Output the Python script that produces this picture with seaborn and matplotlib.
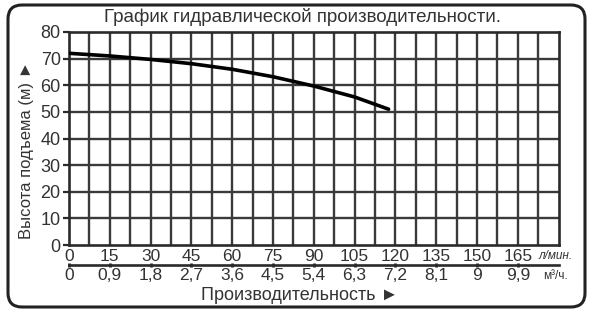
import matplotlib
matplotlib.use("Agg")
import matplotlib.pyplot as plt
import seaborn as sns
import pandas as pd
from matplotlib.patches import FancyBboxPatch
from matplotlib.transforms import IdentityTransform

# ---- data ----
flow_lpm = [0, 15, 30, 45, 60, 75, 90, 105, 117.5]
head_m = [72, 71, 69.7, 68.1, 66, 63.2, 59.7, 55.6, 51]

x_ticks = [0, 15, 30, 45, 60, 75, 90, 105, 120, 135, 150, 165]
x_labels_lpm = ["0", "15", "30", "45", "60", "75", "90", "105", "120", "135", "150", "165"]
x_labels_m3h = ["0", "0,9", "1,8", "2,7", "3,6", "4,5", "5,4", "6,3", "7,2", "8,1", "9", "9,9"]
y_ticks = [0, 10, 20, 30, 40, 50, 60, 70, 80]

title = "График гидравлической производительности."
ylabel = "Высота подъема (м) ►"
xlabel = "Производительность ►"
unit_lpm = "л/мин."
unit_m3h = "м³/ч."

sns.set_style("white")
plt.rcParams["font.family"] = ["Liberation Sans", "DejaVu Sans"]
TXT = "#333333"

W, H = 594, 318
fig = plt.figure(figsize=(W / 100, H / 100), dpi=100)
fig.patch.set_facecolor("white")

def fx(px):
    return px / W

def fy(py):
    return 1 - py / H

ax = fig.add_axes([fx(69), fy(245), fx(558.6) - fx(69), fy(32) - fy(245)])

df = pd.DataFrame({"flow": flow_lpm, "head": head_m})
sns.lineplot(data=df, x="flow", y="head", ax=ax, color="black", linewidth=2.6, zorder=5)

ax.set_xlim(0, 180)
ax.set_ylim(0, 80)
# grid
for gx in [7.5 * i for i in range(1, 24)]:
    ax.axvline(gx, color="#3a3a3a", linewidth=1.7, zorder=1)
for gy in y_ticks[1:-1]:
    ax.axhline(gy, color="#3a3a3a", linewidth=1.7, zorder=1)
for s in ax.spines.values():
    s.set_color("#2a2a2a")
    s.set_linewidth(1.9)

ax.set_xticks(x_ticks)
ax.set_xticklabels(x_labels_lpm)
ax.set_yticks(y_ticks)
ax.set_yticklabels([str(v) for v in y_ticks])
ax.tick_params(axis="x", length=0, pad=3, labelsize=12.5, labelcolor=TXT)
ax.tick_params(axis="y", length=4, width=1.6, color="#2a2a2a", direction="out",
               pad=2, labelsize=13, labelcolor=TXT, left=True)
ax.set_xlabel("")
ax.set_ylabel("")

# secondary axis (m3/h)
sec = ax.secondary_xaxis(-0.094)
sec.set_xticks(x_ticks)
sec.set_xticklabels(x_labels_m3h)
sec.tick_params(axis="x", length=3, width=2, direction="inout", pad=1,
                labelsize=12.5, labelcolor=TXT, color="#222222")
sec.spines["bottom"].set_linewidth(1.9)
sec.spines["bottom"].set_color("#2a2a2a")

# texts
fig.text(fx(302), fy(17), title, ha="center", va="center", fontsize=13.5, color=TXT)
fig.text(fx(27), fy(150), ylabel, ha="center", va="center", rotation=90,
         fontsize=12, color=TXT)
fig.text(fx(300), fy(295), xlabel, ha="center", va="center", fontsize=13, color=TXT)
fig.text(fx(556), fy(256), unit_lpm, ha="center", va="center", fontsize=8.5,
         color=TXT, style="italic")
fig.text(fx(555), fy(276), unit_m3h, ha="center", va="center", fontsize=8.5, color=TXT)

# rounded frame
frame = FancyBboxPatch((8 + 14, (H - 307) + 14), (585 - 8) - 28, (307 - 5) - 28,
                       boxstyle="round,pad=14", transform=IdentityTransform(),
                       facecolor="none", edgecolor="#222222", linewidth=2.2)
fig.patches.append(frame)

fig.savefig("out.png", dpi=100)
